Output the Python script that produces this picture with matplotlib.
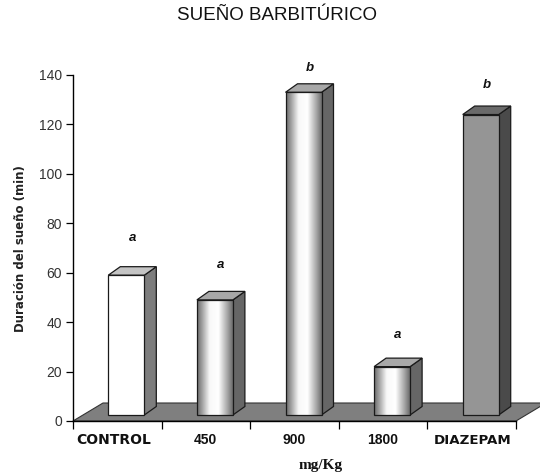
import numpy as np
import matplotlib
matplotlib.use("Agg")
import matplotlib.pyplot as plt
from matplotlib.patches import Polygon

plt.rcParams["font.family"] = ["Liberation Sans", "DejaVu Sans"]

categories = ["CONTROL", "450", "900", "1800", "DIAZEPAM"]
sleep_min = [59, 49, 133, 22, 124]
letters = ["a", "a", "b", "a", "b"]
letter_y = [74, 63, 143, 35, 136]
y_ticks = [0, 20, 40, 60, 80, 100, 120, 140]

W, H = 540, 476
left, right, bottom, top = 73, 516, 421, 75

fig = plt.figure(figsize=(W / 100, H / 100), dpi=100)
ax = fig.add_axes([left / W, 1 - bottom / H, (right - left) / W, (bottom - top) / H])

# pixels to data units
px_x = 5 / (right - left)
px_y = 140 / (bottom - top)

# floor
floor_dx, floor_dy = 30 * px_x, 18 * px_y
ax.add_patch(Polygon([(-0.5, 0), (4.5, 0), (4.5 + floor_dx, floor_dy), (-0.5 + floor_dx, floor_dy)],
                     fc="#7f7f7f", ec="#333333", lw=0.8, clip_on=False, zorder=1))

bar_w = 36 * px_x
depth_x, depth_y = 12 * px_x, 8.5 * px_y
base = 6 * px_y
bar_shift = 9 * px_x
letter_shift = 15 * px_x

# cylinder-like shading of the gradient bars
stops = np.linspace(0, 1, 80)
grad = np.interp(stops, [0, 0.12, 0.35, 0.6, 0.85, 1], [0.42, 0.6, 0.97, 1, 0.65, 0.42]).reshape(1, -1)

styles = {
    "CONTROL": ("#ffffff", "#7d7d7d", "#c4c4c4"),
    "DIAZEPAM": ("#959595", "#4a4a4a", "#6a6a6a"),
}
for i, (cat, val) in enumerate(zip(categories, sleep_min)):
    x0 = i - bar_w / 2 + bar_shift
    x1 = x0 + bar_w
    front, side, lid = styles.get(cat, (None, "#666666", "#a8a8a8"))
    # side and top faces
    ax.add_patch(Polygon([(x1, base), (x1 + depth_x, base + depth_y), (x1 + depth_x, val + depth_y), (x1, val)],
                         fc=side, ec="#1a1a1a", lw=0.9, zorder=3))
    ax.add_patch(Polygon([(x0, val), (x1, val), (x1 + depth_x, val + depth_y), (x0 + depth_x, val + depth_y)],
                         fc=lid, ec="#1a1a1a", lw=0.9, zorder=3))
    # front face
    bar = ax.bar(x0, val - base, width=bar_w, bottom=base, align="edge",
                 fc=front if front else "none", ec="#1a1a1a", lw=0.9, zorder=5)[0]
    if front is None:
        im = ax.imshow(grad, cmap="gray", vmin=0, vmax=1, aspect="auto",
                       extent=[x0, x1, base, val], zorder=4)
        im.set_clip_path(bar)
    ax.text(i + letter_shift, letter_y[i], letters[i], ha="center", va="center",
            fontsize=9.5, fontweight="bold", fontstyle="italic", color="#111111", zorder=6)

ax.set_xlim(-0.5, 4.5)
ax.set_ylim(0, 140)

for s in ("top", "right"):
    ax.spines[s].set_visible(False)
for s in ("left", "bottom"):
    ax.spines[s].set_linewidth(1.0)
    ax.spines[s].set_zorder(6)

ax.set_yticks(y_ticks)
ax.tick_params(axis="y", labelsize=10, length=5, width=0.9, pad=3, labelcolor="#333333")
ax.set_xticks(np.arange(-0.5, 5, 1))
ax.set_xticklabels([])
ax.tick_params(axis="x", length=6, width=0.9, direction="out")

label_px = [114, 205, 294, 383, 473]
label_font = [("DejaVu Sans", 10), ("Liberation Sans", 10), ("Liberation Sans", 10),
              ("Liberation Sans", 10), ("DejaVu Sans", 9.6)]
for cat, px, (fam, size) in zip(categories, label_px, label_font):
    fig.text(px / W, 1 - 440 / H, cat, ha="center", va="center", fontsize=size, fontweight="bold",
             family=fam, color="#111111")

fig.text(321 / W, 1 - 466 / H, "mg/Kg", ha="center", va="center", fontsize=11, fontweight="bold",
         family="Liberation Serif", color="#111111")
fig.text(21 / W, 1 - 249 / H, "Duración del sueño (min)", rotation=90, ha="center", va="center",
         fontsize=8.5, fontweight="bold", family="DejaVu Sans", color="#222222")
fig.text(277 / W, 1 - 15 / H, "SUEÑO BARBITÚRICO", ha="center", va="center", fontsize=13.5,
         color="#111111")

fig.savefig("out.png", dpi=100)
